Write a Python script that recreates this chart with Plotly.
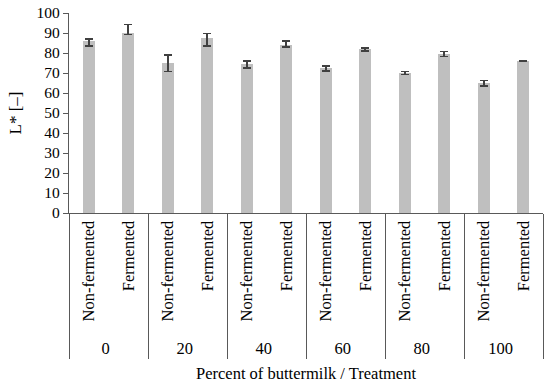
import plotly.graph_objects as go

groups = ["0", "0", "20", "20", "40", "40", "60", "60", "80", "80", "100", "100"]
treatments = ["Non-fermented", "Fermented"] * 6
l_values = [85.8, 90.2, 74.8, 87.3, 74.7, 84.0, 72.6, 81.8, 69.9, 79.3, 65.1, 76.0]
err_plus = [1.1, 4.1, 4.1, 2.5, 1.4, 2.0, 0.9, 0.7, 0.8, 1.4, 1.1, 0.3]
err_minus = [2.3, 0.9, 4.0, 3.8, 2.3, 1.0, 1.6, 0.9, 0.7, 1.0, 1.6, 0.3]
y_ticks = [0, 10, 20, 30, 40, 50, 60, 70, 80, 90, 100]

FONT = "Liberation Serif"

fig = go.Figure()
fig.add_trace(go.Bar(
    x=[groups, treatments],
    y=l_values,
    width=0.31,
    marker=dict(color="#BFBFBF", line=dict(width=0)),
    error_y=dict(type="data", symmetric=False, array=err_plus, arrayminus=err_minus,
                 color="#404040", thickness=1.6, width=4),
))

fig.update_layout(
    width=550, height=385,
    margin=dict(l=69, r=7, t=13, b=172),
    paper_bgcolor="white", plot_bgcolor="white",
    font=dict(family=FONT, size=15, color="#000000"),
    showlegend=False,
    bargap=0,
)
fig.update_xaxes(
    type="multicategory",
    automargin=False,
    showline=True, linecolor="#595959", linewidth=1.2,
    showdividers=True, dividercolor="#595959", dividerwidth=1.2,
    tickangle=-90,
    ticks="",
    tickfont=dict(family=FONT, size=16.5, color="#000000"),
    title=dict(text="Percent of buttermilk / Treatment", font=dict(family=FONT, size=16.5), standoff=10),
    range=[-0.5, 11.5],
    showgrid=False,
)
fig.update_yaxes(
    automargin=False,
    range=[0, 100],
    tickvals=y_ticks,
    showline=True, linecolor="#595959", linewidth=1.2,
    ticks="outside", ticklen=5, tickcolor="#595959", tickwidth=1.2,
    showgrid=False, zeroline=False,
    tickfont=dict(family=FONT, size=15.5, color="#000000"),
    title=dict(text="L* [–]", font=dict(family=FONT, size=17), standoff=10),
)

fig.write_html("out.html", config={"displayModeBar": False},
               post_script="document.body.style.margin='0';")
